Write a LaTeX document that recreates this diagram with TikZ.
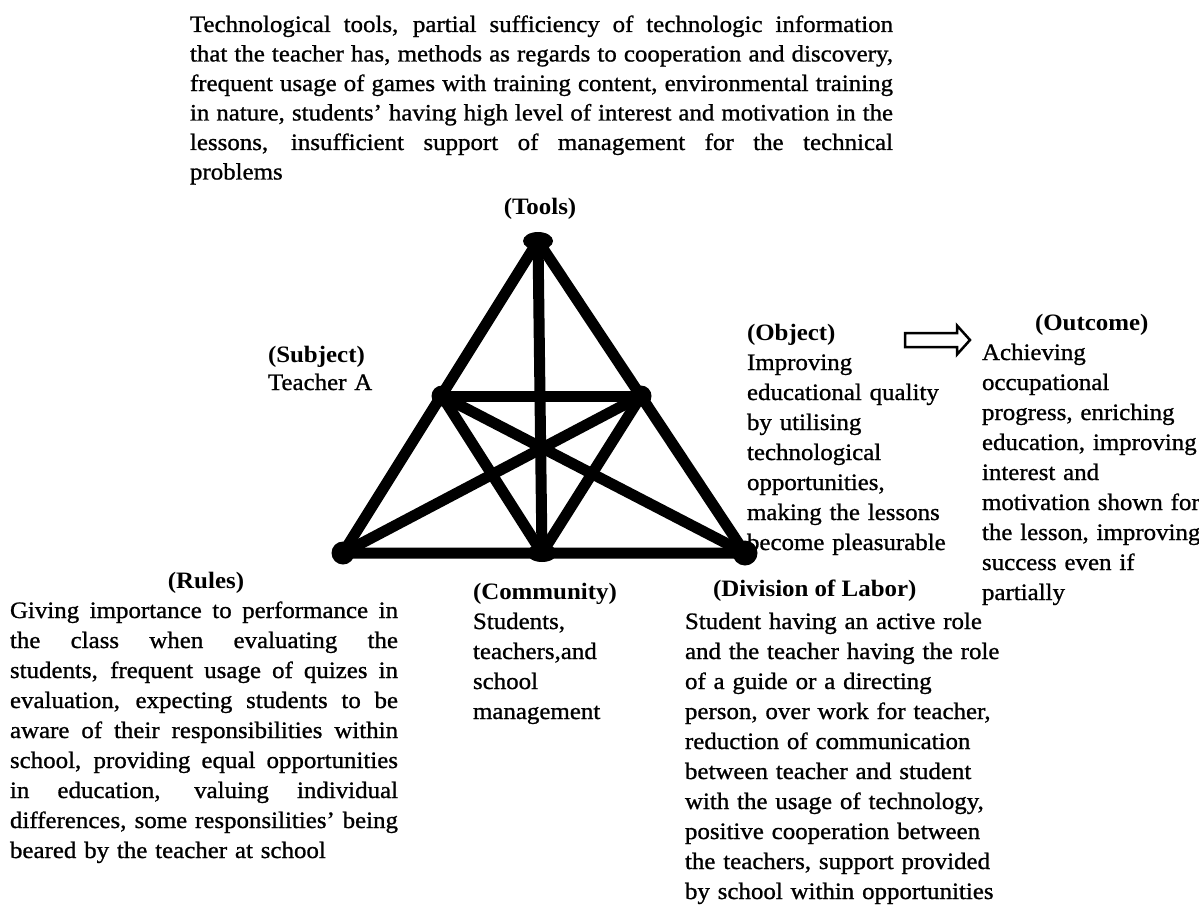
\documentclass[tikz,border=0pt]{standalone}
\usepackage{fontspec}
\usetikzlibrary{shapes.geometric}
\setmainfont{Liberation Serif}[FakeStretch=1.06, UprightFeatures={FakeBold=1}]
\newcommand\bodyfs{\fontsize{23.5}{30}\selectfont}
\newcommand\topfs{\fontsize{23.5}{29.5}\selectfont}
\newcommand\jl[2]{\makebox[#1][s]{\spaceskip=.265em plus 1fil\xspaceskip=.265em plus 1fil\relax #2}}
\tikzset{
  blk/.style={inner sep=0pt, outer sep=0pt, anchor=north west, align=left, font=\bodyfs},
  ttl/.style={inner sep=0pt, outer sep=0pt, anchor=base west, font=\bodyfs\bfseries},
  vtx/.style={circle, fill=black, inner sep=0pt, minimum size=#1},
  vtxe/.style={ellipse, fill=black, inner sep=0pt, minimum width=#1, minimum height=18pt},
  bar/.style={line width=11pt, line cap=round, line join=round},
  hollow/.style={draw=black, line width=2.5pt, fill=white, line join=miter},
}
\begin{document}
\begin{tikzpicture}[x=1pt,y=-1pt]
\useasboundingbox (0,0) rectangle (1199,907);

% ---- texts ----
\node[blk, font=\topfs, text width=703pt] (tooltext) at (190,11.35) {\strut\jl{703pt}{Technological tools, partial sufficiency of technologic information}\\
\jl{703pt}{that the teacher has, methods as regards to cooperation and discovery,}\\
\jl{703pt}{frequent usage of games with training content, environmental training}\\
\jl{703pt}{in nature, students’ having high level of interest and motivation in the}\\
\jl{703pt}{lessons, insufficient support of management for the technical}\\
problems};

\node[ttl, anchor=base] (tools) at (540,214) {(Tools)};

\node[ttl] (subject) at (268,362) {(Subject)};
\node[blk, text width=200pt] (subjtext) at (268,369) {\strut Teacher A};

\node[ttl] (object) at (747,340) {(Object)};
\node[blk, text width=230pt] (objtext) at (747,349) {\strut Improving\\
educational quality\\
by utilising\\
technological\\
opportunities,\\
making the lessons\\
become pleasurable};

\node[ttl] (outcome) at (1035,330) {(Outcome)};
\node[blk, text width=230pt] (outtext) at (982,339) {\strut Achieving\\
occupational\\
progress, enriching\\
education, improving\\
interest and\\
motivation shown for\\
the lesson, improving\\
success even if\\
partially};

\node[ttl, anchor=base] (rules) at (206,588) {(Rules)};
\node[blk, text width=388pt] (rulestext) at (10,597) {\strut\jl{388pt}{Giving importance to performance in}\\
\jl{388pt}{the class when evaluating the}\\
\jl{388pt}{students, frequent usage of quizes in}\\
\jl{388pt}{evaluation, expecting students to be}\\
\jl{388pt}{aware of their responsibilities within}\\
\jl{388pt}{school, providing equal opportunities}\\
\jl{388pt}{in education, valuing individual}\\
\jl{388pt}{differences, some responsilities’ being}\\
beared by the teacher at school};

\node[ttl] (community) at (473,599) {(Community)};
\node[blk, text width=200pt] (commtext) at (473,608) {\strut Students,\\
teachers,and\\
school\\
management};

\node[ttl] (division) at (713,596) {(Division of Labor)};
\node[blk, text width=330pt] (divtext) at (685,608) {\strut Student having an active role\\
and the teacher having the role\\
of a guide or a directing\\
person, over work for teacher,\\
reduction of communication\\
between teacher and student\\
with the usage of technology,\\
positive cooperation between\\
the teachers, support provided\\
by school within opportunities};

% ---- hollow arrow object -> outcome ----
\draw[hollow] (905,333) -- (957,333) -- (957,325.5) -- (970,340) -- (957,354.5) -- (957,347) -- (905,347) -- cycle;

% ---- triangle ----
\node[vtxe=30pt] (T)  at (538,241) {};
\node[vtx=23pt] (BL) at (343,553) {};
\node[vtx=25pt] (BR) at (745,553) {};
\node[vtxe=30pt] (BM) at (542,553) {};
\node[vtx=21pt] (LM) at (442,396) {};
\node[vtx=21pt] (RM) at (641,396) {};

\draw[bar] (T.center) -- (BL.center) -- (BR.center) -- cycle;
\draw[bar] (T.center) -- (BM.center);
\draw[bar] (LM.center) -- (RM.center);
\draw[bar] (LM.center) -- (BM.center);
\draw[bar] (RM.center) -- (BM.center);
\draw[bar] (LM.center) -- (BR.center);
\draw[bar] (RM.center) -- (BL.center);
\end{tikzpicture}
\end{document}
